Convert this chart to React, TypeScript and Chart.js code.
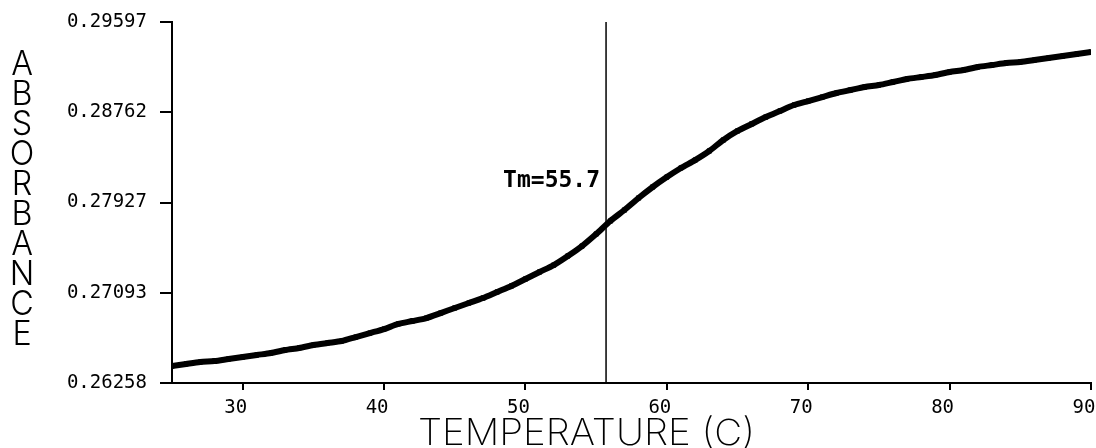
import { useEffect, useRef } from "react";
import { Chart, registerables } from "chart.js";

Chart.register(...registerables);

const temperatures = [
  25, 26, 27, 28, 29, 30, 31, 32, 33, 34, 35, 36, 37, 38, 39, 40, 41, 42, 43, 44, 45, 46,
  47, 48, 49, 50, 51, 52, 53, 54, 55, 56, 57, 58, 59, 60, 61, 62, 63, 64, 65, 66, 67, 68,
  69, 70, 71, 72, 73, 74, 75, 76, 77, 78, 79, 80, 81, 82, 83, 84, 85, 86, 87, 88, 89, 90,
];

const absorbance = [
  0.26415, 0.26434, 0.26452, 0.26461, 0.2648, 0.26498, 0.26517, 0.26535, 0.26563, 0.26582,
  0.26609, 0.26628, 0.26646, 0.26683, 0.2672, 0.26757, 0.26804, 0.26831, 0.26859, 0.26905,
  0.26952, 0.26998, 0.27044, 0.271, 0.27155, 0.2722, 0.27285, 0.27349, 0.27433, 0.27525,
  0.27636, 0.27756, 0.27858, 0.27969, 0.28071, 0.28163, 0.28247, 0.2832, 0.28404, 0.28506,
  0.28589, 0.28654, 0.28718, 0.28774, 0.28829, 0.28866, 0.28903, 0.2894, 0.28968, 0.28996,
  0.29014, 0.29042, 0.2907, 0.29088, 0.29107, 0.29135, 0.29153, 0.29181, 0.29199, 0.29218,
  0.29227, 0.29245, 0.29264, 0.29282, 0.29301, 0.29319,
];

const yTicks = [0.26258, 0.27093, 0.27927, 0.28762, 0.29597];
const xTicks = [30, 40, 50, 60, 70, 80, 90];
const xMin = 25;
const xMax = 90;
const tm = 55.7;
const tmLabel = "Tm=55.7";
const xTitle = "TEMPERATURE (C)";
const yTitle = "ABSORBANCE";

const textPlugin = {
  id: "plotterTexts",
  afterDraw(chart: any) {
    const ctx = chart.ctx as CanvasRenderingContext2D;
    const xs = chart.scales.x;
    ctx.save();
    ctx.fillStyle = "#000";
    // Y title: stacked upright letters
    ctx.font = "300 34px Inter";
    ctx.textAlign = "center";
    ctx.textBaseline = "alphabetic";
    yTitle.split("").forEach((ch, i) => {
      const top = 50 + 30 * i;
      ctx.save();
      ctx.translate(22, top + 25);
      ctx.scale(0.95, 1);
      ctx.fillText(ch, 0, 0);
      ctx.restore();
    });
    // X title
    ctx.font = "200 36px Inter";
    ctx.textAlign = "left";
    const w = ctx.measureText(xTitle).width;
    ctx.save();
    ctx.translate(418, 445);
    ctx.scale(337 / w, 1);
    ctx.fillText(xTitle, 0, 0);
    ctx.restore();
    // Tm label
    ctx.font = 'bold 23px "DejaVu Sans Mono"';
    ctx.textAlign = "right";
    ctx.textBaseline = "middle";
    ctx.fillText(tmLabel, xs.getPixelForValue(tm) - 6, 181);
    ctx.restore();
  },
};

export default function App() {
  const canvasRef = useRef<HTMLCanvasElement | null>(null);

  useEffect(() => {
    if (!canvasRef.current) return;
    const tickFont = { family: '"DejaVu Sans Mono"', size: 19, weight: "normal" as const };
    const chart = new Chart(canvasRef.current, {
      type: "line",
      data: {
        datasets: [
          {
            data: temperatures.map((t, i) => ({ x: t, y: absorbance[i] })),
            borderColor: "#000",
            borderWidth: 6,
            tension: 0.25,
            pointStyle: "rect",
            pointRadius: 3,
            pointBackgroundColor: "#000",
            pointBorderColor: "#000",
            pointBorderWidth: 1,
          },
          {
            data: [
              { x: tm, y: yTicks[0] },
              { x: tm, y: yTicks[yTicks.length - 1] },
            ],
            borderColor: "#000",
            borderWidth: 1.5,
            pointRadius: 0,
          },
        ],
      },
      options: {
        animation: false,
        responsive: true,
        maintainAspectRatio: false,
        layout: { padding: { top: 22, right: 5, left: 0, bottom: 0 } },
        plugins: { legend: { display: false }, tooltip: { enabled: false } },
        scales: {
          x: {
            type: "linear",
            min: xMin,
            max: xMax,
            afterBuildTicks: (scale: any) => {
              scale.ticks = xTicks.map((v) => ({ value: v }));
            },
            afterFit: (scale: any) => {
              scale.height = 65;
              scale.paddingLeft = 0;
              scale.paddingRight = 0;
            },
            border: { display: true, color: "#000", width: 2 },
            grid: {
              drawOnChartArea: false,
              drawTicks: true,
              tickLength: 7,
              color: "#000",
              lineWidth: 2,
            },
            ticks: {
              color: "#000",
              font: tickFont,
              padding: 7,
              labelOffset: -7,
              maxRotation: 0,
              autoSkip: false,
              callback: (v: any) => String(v),
            },
          },
          y: {
            type: "linear",
            min: yTicks[0],
            max: yTicks[yTicks.length - 1],
            afterBuildTicks: (scale: any) => {
              scale.ticks = yTicks.map((v) => ({ value: v }));
            },
            afterFit: (scale: any) => {
              scale.width = 172;
              scale.paddingTop = 0;
              scale.paddingBottom = 0;
            },
            border: { display: true, color: "#000", width: 2 },
            grid: {
              drawOnChartArea: false,
              drawTicks: true,
              tickLength: 12,
              color: "#000",
              lineWidth: 2,
            },
            ticks: {
              color: "#000",
              font: tickFont,
              padding: 13,
              autoSkip: false,
              callback: (v: any) => Number(v).toFixed(5),
            },
          },
        },
      },
      plugins: [textPlugin],
    });
    return () => chart.destroy();
  }, []);

  return (
    <div style={{ position: "absolute", left: 0, top: 0, width: 1096, height: 448, background: "#fff" }}>
      <canvas ref={canvasRef} />
    </div>
  );
}
